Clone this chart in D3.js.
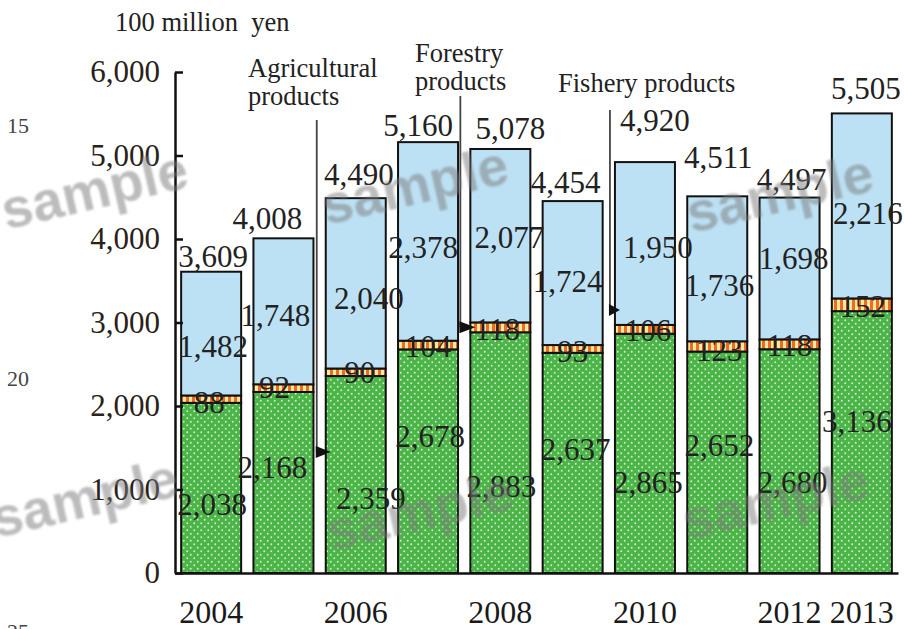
<!DOCTYPE html>
<html>
<head>
<meta charset="utf-8">
<script src="https://cdn.jsdelivr.net/npm/d3@7"></script>
<style>
body { margin: 0; background: #fff; }
svg { display: block; }
text { font-family: "Liberation Serif", "Times New Roman", serif; }
</style>
</head>
<body>
<div id="chart"></div>
<script>
var width = 904;
var height = 629;

// values, 100 million yen
var years = [2004, 2005, 2006, 2007, 2008, 2009, 2010, 2011, 2012, 2013];
var agricultural = [2038, 2168, 2359, 2678, 2883, 2637, 2865, 2652, 2680, 3136];
var forestry = [88, 92, 90, 104, 118, 93, 106, 123, 118, 152];
var fishery = [1482, 1748, 2040, 2378, 2077, 1724, 1950, 1736, 1698, 2216];
var totals = [3609, 4008, 4490, 5160, 5078, 4454, 4920, 4511, 4497, 5505];
var yTicks = [0, 1000, 2000, 3000, 4000, 5000, 6000];
var shownYears = [2004, 2006, 2008, 2010, 2012, 2013];
var sideNumbers = ["15", "20", "25"];

// label nudges [dx, dy] as placed in the original
var agriNudge = [[1, 17], [-11, -15], [15, 24], [2, -24], [1, 34], [3, -13], [3, 29], [2, -17], [3, 22], [-5, -20]];
var forestNudge = [[-2, 4], [-9, 0], [4, 1], [0, 2], [-3, 2], [0, 3], [3, 1], [2, 4], [0, 1], [1, 2]];
var fishNudge = [[2, 13], [-8, 4], [13, 15], [-5, 6], [9, 2], [-5, 9], [13, 4], [2, 17], [4, -10], [6, 8]];
var totalNudge = [[2, -15], [-16, -20], [3, -23], [-10, -16], [10, -20], [-7, -18], [10, -41], [1, -39], [2, -18], [4, -25]];

var svg = d3.select("#chart").append("svg")
	.attr("width", width)
	.attr("height", height);

svg.append("rect").attr("width", width).attr("height", height).attr("fill", "#fff");

var x = d3.scaleBand()
	.domain(years)
	.range([175, 898])
	.paddingInner(0.17)
	.paddingOuter(0.085);

var y = d3.scaleLinear()
	.domain([0, 6000])
	.range([573, 72]);

// fill patterns
var defs = svg.append("defs");
var dots = defs.append("pattern")
	.attr("id", "dots")
	.attr("patternUnits", "userSpaceOnUse")
	.attr("width", 7)
	.attr("height", 7);
dots.append("rect").attr("width", 7).attr("height", 7).attr("fill", "#4cb547");
dots.append("circle").attr("cx", 1.75).attr("cy", 1.75).attr("r", 0.95).attr("fill", "#fff").attr("opacity", 0.75);
dots.append("circle").attr("cx", 5.25).attr("cy", 5.25).attr("r", 0.95).attr("fill", "#fff").attr("opacity", 0.75);

var stripes = defs.append("pattern")
	.attr("id", "stripes")
	.attr("patternUnits", "userSpaceOnUse")
	.attr("width", 6)
	.attr("height", 6);
stripes.append("rect").attr("width", 6).attr("height", 6).attr("fill", "#f06a22");
stripes.append("rect").attr("x", 3).attr("width", 3).attr("height", 6).attr("fill", "#fbe89a");

var soft = defs.append("filter").attr("id", "soft");
soft.append("feGaussianBlur").attr("stdDeviation", 0.9);

var rows = years.map(function(yr, i) {
	return {year: yr, agri: agricultural[i], forest: forestry[i], fish: fishery[i]};
});
var keys = ["agri", "forest", "fish"];
var fills = {agri: "url(#dots)", forest: "url(#stripes)", fish: "#bde1f4"};
var nudges = {agri: agriNudge, forest: forestNudge, fish: fishNudge};
var series = d3.stack().keys(keys)(rows);

// bars
series.forEach(function(s) {
	svg.append("g")
		.selectAll("rect")
		.data(s)
		.enter()
		.append("rect")
		.attr("x", function(d) { return x(d.data.year); })
		.attr("y", function(d) { return y(d[1]); })
		.attr("width", x.bandwidth())
		.attr("height", function(d) { return y(d[0]) - y(d[1]); })
		.attr("fill", fills[s.key])
		.attr("stroke", "#111")
		.attr("stroke-width", 2);
});

// y axis, ticks pointing inwards
var yAxis = svg.append("g")
	.attr("transform", "translate(175,0)")
	.call(d3.axisLeft(y).tickValues(yTicks).tickSize(-8).tickSizeOuter(0).tickPadding(15)
		.tickFormat(d3.format(",")));
yAxis.select(".domain").attr("stroke", "#111").attr("stroke-width", 2.5);
yAxis.selectAll(".tick line").attr("stroke", "#111").attr("stroke-width", 2.5);
yAxis.selectAll("text")
	.style("font-family", "'Liberation Serif', serif")
	.style("font-size", "31px")
	.attr("fill", "#2a2118");

// x axis
var xAxis = svg.append("g")
	.attr("transform", "translate(0,573)")
	.call(d3.axisBottom(x).tickValues(shownYears).tickSize(0).tickPadding(27));
xAxis.select(".domain").attr("stroke", "#111").attr("stroke-width", 2.5);
xAxis.selectAll("text")
	.style("font-family", "'Liberation Serif', serif")
	.style("font-size", "32px")
	.attr("fill", "#1a1a1a");

// segment labels
var fmt = d3.format(",");
series.forEach(function(s) {
	svg.append("g")
		.selectAll("text")
		.data(s)
		.enter()
		.append("text")
		.attr("text-anchor", "middle")
		.attr("x", function(d, i) { return x(d.data.year) + x.bandwidth() / 2 + nudges[s.key][i][0]; })
		.attr("y", function(d, i) { return y((d[0] + d[1]) / 2) + nudges[s.key][i][1]; })
		.attr("dy", "0.33em")
		.attr("fill", "#222")
		.style("font-size", "31px")
		.text(function(d) { return fmt(d.data[s.key]); });
});

// totals
svg.append("g")
	.selectAll("text")
	.data(totals)
	.enter()
	.append("text")
	.attr("text-anchor", "middle")
	.attr("x", function(d, i) { return x(years[i]) + x.bandwidth() / 2 + totalNudge[i][0]; })
	.attr("y", function(d, i) { return y(d) + totalNudge[i][1]; })
	.attr("dy", "0.33em")
	.attr("fill", "#222")
	.style("font-size", "31px")
	.text(function(d) { return fmt(d); });

// unit
svg.append("text")
	.attr("x", 115)
	.attr("y", 31)
	.attr("fill", "#222")
	.style("font-size", "26.5px")
	.style("white-space", "pre")
	.text("100 million  yen");

// series callouts
var callouts = [
	{lines: ["Agricultural", "products"], year: 2006, value: 1450, tx: 248, ty: 77, lineDx: -9, top: 120},
	{lines: ["Forestry", "products"], year: 2008, value: 2942, tx: 415, ty: 62, lineDx: -10, top: 96},
	{lines: ["Fishery products"], year: 2010, value: 3150, tx: 558, ty: 92, lineDx: -5, top: 110}
];
callouts.forEach(function(c) {
	var t = svg.append("text")
		.attr("x", c.tx)
		.attr("y", c.ty)
		.attr("fill", "#222")
		.style("font-size", "26.5px");
	c.lines.forEach(function(l, i) {
		t.append("tspan").attr("x", c.tx).attr("dy", i == 0 ? 0 : 28).text(l);
	});
	var lx = x(c.year) + c.lineDx;
	var ly = y(c.value);
	svg.append("line")
		.attr("x1", lx).attr("y1", c.top)
		.attr("x2", lx).attr("y2", ly)
		.attr("stroke", "#444")
		.attr("stroke-width", 1.8);
	svg.append("path")
		.attr("d", "M" + (lx - 1) + "," + (ly - 6) + "L" + (x(c.year) + 5) + "," + ly + "L" + (lx - 1) + "," + (ly + 6) + "Z")
		.attr("fill", "#111");
});

// page line numbers
svg.append("g")
	.selectAll("text")
	.data(sideNumbers)
	.enter()
	.append("text")
	.attr("x", 7)
	.attr("y", function(d, i) { return 133 + i * 253; })
	.attr("fill", "#444")
	.style("font-size", "22px")
	.text(function(d) { return d; });

// watermarks
var marks = [[95, 192], [415, 187], [780, 195], [85, 500], [420, 513], [776, 502]];
svg.append("g")
	.attr("filter", "url(#soft)")
	.selectAll("text")
	.data(marks)
	.enter()
	.append("text")
	.attr("text-anchor", "middle")
	.attr("dy", "0.3em")
	.attr("transform", function(d) { return "translate(" + d[0] + "," + d[1] + ") rotate(-13)"; })
	.style("font-family", "'Liberation Sans', Arial, sans-serif")
	.style("font-weight", "bold")
	.style("font-size", "55px")
	.attr("fill", "#7a7a7a")
	.attr("opacity", 0.5)
	.text("sample");
</script>
</body>
</html>
